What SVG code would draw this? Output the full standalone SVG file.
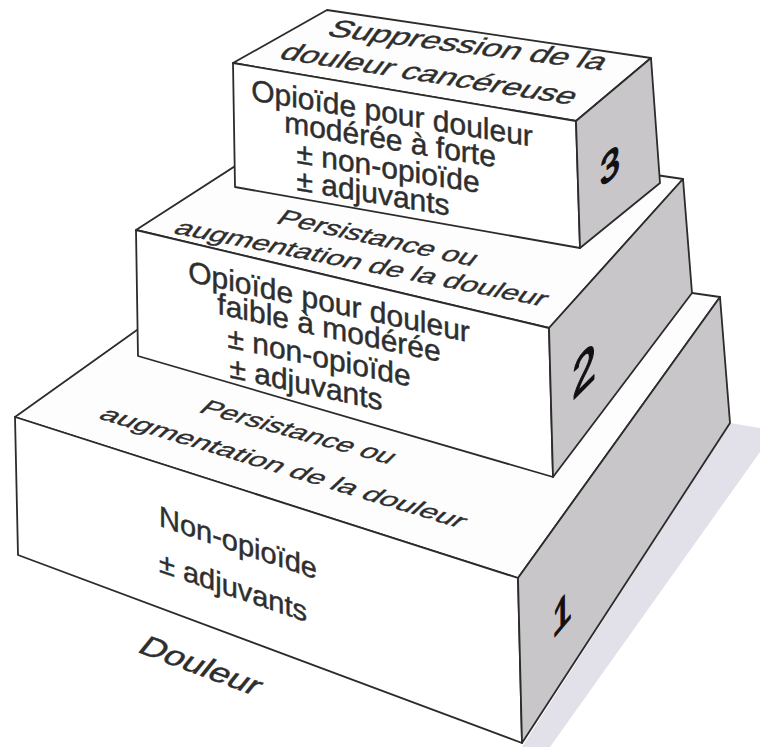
<svg xmlns="http://www.w3.org/2000/svg" width="760" height="747" viewBox="0 0 760 747">
<style>
.face{stroke:#2b2b2b;stroke-width:1.8;stroke-linejoin:round}
.top{fill:#fdfdfe}
.front{fill:#ffffff}
.side{fill:#c9c6c9}
.t{font-family:"Liberation Sans",Arial,sans-serif;fill:#2e2e2e;stroke:#2e2e2e;stroke-width:0.45;text-anchor:middle}
.f30{font-size:30px}
.dig{font-family:"Liberation Sans",Arial,sans-serif;fill:#111;text-anchor:middle;stroke:#111;stroke-width:1.6;stroke-linejoin:round}
</style>
<rect width="760" height="747" fill="#ffffff"/>
<polygon id="shadow" points="730,423 760,428 760,452 550,747 522,747" fill="#e2e1ea"/>
<g id="step1">
<polygon class="face top" points="15,417 518,578 720,297 273,233"/>
<polygon class="face front" points="15,417 518,578 522,743 18,555"/>
<polygon class="face side" points="518,578 720,297 730,423 522,743"/>
<text class="t f30" transform="translate(293,438) rotate(15.3) skewX(-30) scale(1,0.72)">Persistance ou</text>
<text class="t f30" transform="translate(278,473) rotate(16.9) skewX(-30) scale(1.04,0.7)">augmentation de la douleur</text>
<text class="t" font-size="29" transform="translate(238,552.7) skewY(18.8)">Non-opioïde</text>
<text class="t" font-size="29" transform="translate(233,597) skewY(18.8)">± adjuvants</text>
<text class="dig" font-size="44" transform="translate(562,628) skewY(-50) scale(0.8,1)">1</text>
</g>
<g id="step2">
<polygon class="face top" points="136,230 549,328 683,179 302,123"/>
<polygon class="face front" points="136,230 549,328 553,477 138,356"/>
<polygon class="face side" points="549,328 683,179 692,293 553,477"/>
<text class="t" font-size="30.5" transform="translate(373,244.6) rotate(12.4) skewX(-26) scale(1,0.74)">Persistance ou</text>
<text class="t" font-size="30.5" transform="translate(357,269.6) rotate(11.2) skewX(-26) scale(1.02,0.72)">augmentation de la douleur</text>
<text class="t f30" transform="translate(329,312) skewY(12.2)">Opioïde pour douleur</text>
<text class="t f30" transform="translate(329,338) skewY(12.2)">faible à modérée</text>
<text class="t f30" transform="translate(319,367) skewY(12.2)">± non-opioïde</text>
<text class="t f30" transform="translate(306,394) skewY(12.2)">± adjuvants</text>
<text class="dig" font-size="54" transform="translate(584,389) skewY(-45) scale(0.8,1)">2</text>
</g>
<g id="step3">
<polygon class="face top" points="233,63 576,121 651,58 327,10"/>
<polygon class="face front" points="233,63 576,121 580,248 235,187"/>
<polygon class="face side" points="576,121 651,58 660,183 580,248"/>
<text class="t" font-size="31" transform="translate(463,52.8) rotate(7.2) skewX(-28) scale(1.12,0.8)">Suppression de la</text>
<text class="t" font-size="31" transform="translate(424,81.5) rotate(9) skewX(-28) scale(1.09,0.8)">douleur cancéreuse</text>
<text class="t f30" transform="translate(392,123.4) skewY(9.37)">Opioïde pour douleur</text>
<text class="t f30" transform="translate(390,149.7) skewY(9.37)">modérée à forte</text>
<text class="t f30" transform="translate(388,178) skewY(9.37)">± non-opioïde</text>
<text class="t f30" transform="translate(373,203) skewY(9.37)">± adjuvants</text>
<text class="dig" font-size="42" transform="translate(610,180) skewY(-40) scale(0.85,1)">3</text>
</g>
<g id="douleur-label">
<text class="t f30" transform="translate(195,673.6) rotate(20.5) skewX(-18) scale(1.2,0.95)">Douleur</text>
</g>
</svg>
